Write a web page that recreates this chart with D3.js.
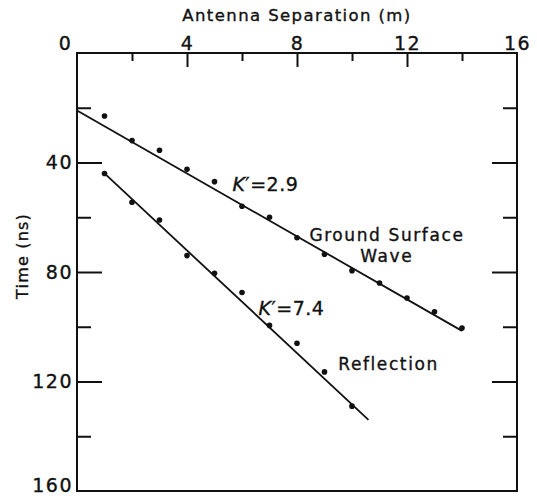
<!DOCTYPE html>
<html><head><meta charset="utf-8">
<script src="https://cdn.jsdelivr.net/npm/d3@7"></script>
<style>
html,body{margin:0;padding:0;background:#fff;}
svg text{font-family:"DejaVu Sans",sans-serif;fill:#111;stroke:#111;stroke-width:0.35px;}
</style></head>
<body><svg id="c" width="537" height="500"></svg>
<script>
// Data
const separation = [1,2,3,4,5,6,7,8,9,10,11,12,13,14];
const groundTimes = [23,32,35.5,42.5,47,56,60,67.5,73.5,79.5,84,89.5,94.5,100.5];
const reflSeparation = [1,2,3,4,5,6,7,8,9,10];
const reflTimes = [44,54.5,61,74,80.5,87.5,99.5,106,116.5,129];
const groundFit = [[0,21],[14,101.5]];
const reflFit = [[1,44],[10.6,134]];
const xTickLabels = [0,4,8,12,16];
const xMinorTicks = [2,6,10,14];
const yTickLabels = [40,80,120,160];
const yMinorTicks = [20,60,100,140];
const yMajorTicks = [40,80,120];

const L=77,R=517,T=53,B=491;
const svg=d3.select("#c");
const x=d3.scaleLinear().domain([0,16]).range([L,R]);
const y=d3.scaleLinear().domain([0,160]).range([T,B]);
const ink="#111";

// frame
svg.append("rect").attr("x",L).attr("y",T).attr("width",R-L).attr("height",B-T)
  .attr("fill","none").attr("stroke",ink).attr("stroke-width",2);

function styleAxis(g){g.select(".domain").remove();g.selectAll("line").attr("stroke",ink).attr("stroke-width",2);}

// top ticks (inward)
svg.append("g").attr("transform",`translate(0,${T})`)
  .call(d3.axisBottom(x).tickValues([4,8,12]).tickSize(14).tickFormat("")).call(styleAxis);
svg.append("g").attr("transform",`translate(0,${T})`)
  .call(d3.axisBottom(x).tickValues(xMinorTicks).tickSize(8).tickFormat("")).call(styleAxis);
// top labels
const gxl=svg.append("g").attr("transform",`translate(0,${T})`)
  .call(d3.axisTop(x).tickValues(xTickLabels).tickSize(0).tickPadding(3).tickFormat(d3.format("d")));
gxl.select(".domain").remove();
gxl.selectAll("text").attr("font-size",19).attr("fill",ink).style("letter-spacing","1.5px")
  .attr("dx",d=>d===0?-12:0);

// left/right ticks
[["maj",yMajorTicks,25],["min",yMinorTicks,14]].forEach(([k,v,s])=>{
  svg.append("g").attr("transform",`translate(${L},0)`)
    .call(d3.axisRight(y).tickValues(v).tickSize(s).tickFormat("")).call(styleAxis);
  svg.append("g").attr("transform",`translate(${R},0)`)
    .call(d3.axisLeft(y).tickValues(v).tickSize(s).tickFormat("")).call(styleAxis);
});
const gyl=svg.append("g").attr("transform",`translate(${L},0)`)
  .call(d3.axisLeft(y).tickValues(yTickLabels).tickSize(0).tickPadding(4).tickFormat(d3.format("d")));
gyl.select(".domain").remove();
gyl.selectAll("text").attr("font-size",19).attr("fill",ink).style("letter-spacing","1.5px")
  .attr("dy",d=>d===160?"0.05em":"0.32em");

// axis titles
svg.append("text").attr("x",(L+R)/2).attr("y",21).attr("text-anchor","middle")
  .attr("font-size",16.5).style("letter-spacing","1.4px").text("Antenna Separation (m)");
svg.append("text").attr("transform",`translate(28,${(T+B)/2-16}) rotate(-90)`).attr("text-anchor","middle")
  .attr("font-size",16).style("letter-spacing","1.2px").text("Time (ns)");

// fit lines
const line=d3.line().x(d=>x(d[0])).y(d=>y(d[1]));
[groundFit,reflFit].forEach(f=>svg.append("path").attr("d",line(f)).attr("fill","none")
  .attr("stroke",ink).attr("stroke-width",1.8));

// points
svg.append("g").selectAll("circle").data(separation.map((s,i)=>[s,groundTimes[i]])).join("circle")
  .attr("cx",d=>x(d[0])).attr("cy",d=>y(d[1])).attr("r",2.8).attr("fill",ink);
svg.append("g").selectAll("circle").data(reflSeparation.map((s,i)=>[s,reflTimes[i]])).join("circle")
  .attr("cx",d=>x(d[0])).attr("cy",d=>y(d[1])).attr("r",2.8).attr("fill",ink);

// annotations
function kLabel(px,py,val){
  const t=svg.append("text").attr("x",px).attr("y",py).attr("font-size",19).style("letter-spacing","0.5px");
  t.append("tspan").attr("font-style","italic").text("K");
  t.append("tspan").text("′=");
  t.append("tspan").text(val);
}
kLabel(x(5.65),y(50.5),"2.9");
kLabel(x(6.6),y(95.7),"7.4");
svg.append("text").attr("x",x(8.45)).attr("y",y(68.7)).attr("font-size",17).style("letter-spacing","1.6px").text("Ground Surface");
svg.append("text").attr("x",x(10.3)).attr("y",y(76.3)).attr("font-size",17).style("letter-spacing","1.6px").text("Wave");
svg.append("text").attr("x",x(9.5)).attr("y",y(115.7)).attr("font-size",17).style("letter-spacing","1.6px").text("Reflection");
</script></body></html>
